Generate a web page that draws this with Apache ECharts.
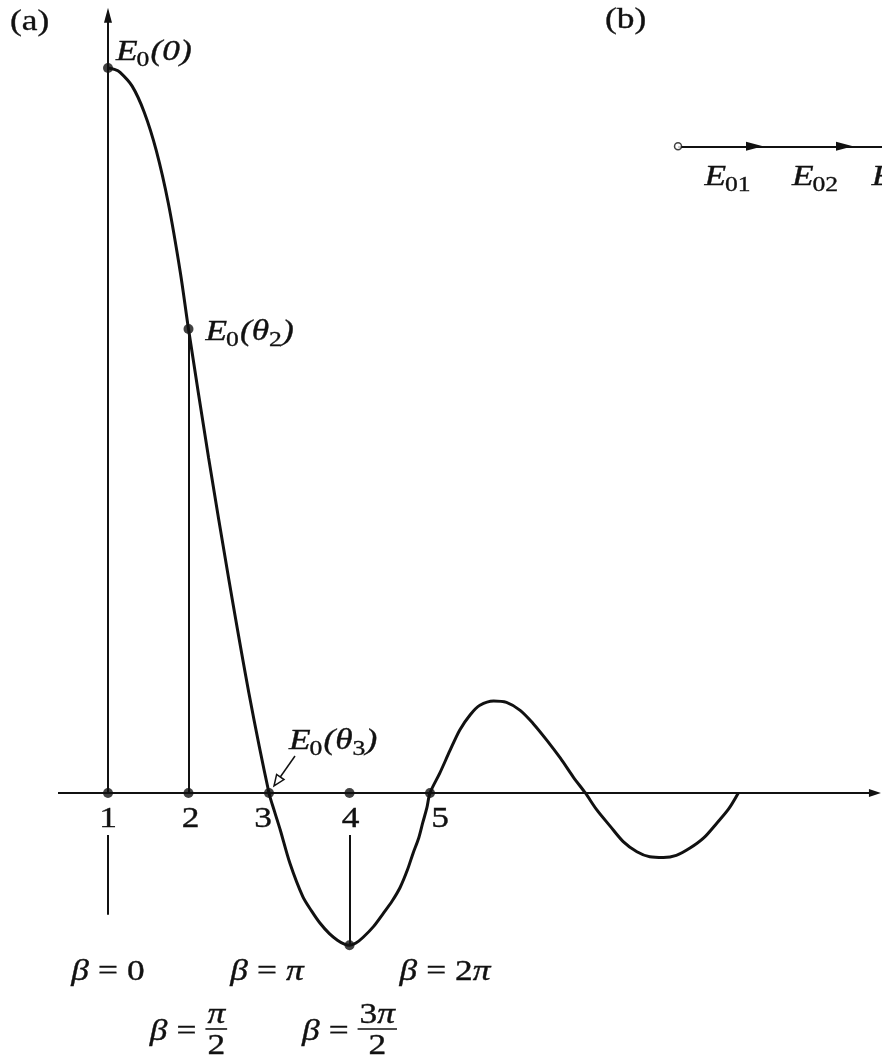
<!DOCTYPE html>
<html><head><meta charset="utf-8">
<script src="https://cdn.jsdelivr.net/npm/echarts@6/dist/echarts.min.js"></script>
<style>html,body{margin:0;padding:0;background:#fff}#c{width:882px;height:1060px}</style>
</head><body><div id="c"></div>
<script>
// ---------------- data ----------------
const curveX = [1.00, 1.08, 1.15, 1.30, 1.45, 1.60, 1.75, 1.90, 2.00, 2.25, 2.50, 2.75, 3.00,
                3.07, 3.14, 3.26, 3.42, 3.53, 3.63, 3.75, 3.85, 3.93, 4.00, 4.08, 4.17, 4.30, 4.42,
                4.53, 4.63, 4.72, 4.79, 4.86, 4.91, 4.96, 5.00,
                5.12, 5.25, 5.37, 5.50, 5.62, 5.79, 5.95, 6.12, 6.28, 6.45, 6.62, 6.78, 6.93,
                7.07, 7.24, 7.40, 7.57, 7.73, 7.90, 8.06, 8.23, 8.40, 8.56, 8.71, 8.83];
const curveY = [1.000, 0.998, 0.994, 0.975, 0.939, 0.886, 0.813, 0.717, 0.640, 0.462, 0.295, 0.138, 0.000,
                -0.026, -0.051, -0.097, -0.143, -0.163, -0.179, -0.194, -0.203, -0.208, -0.210, -0.207, -0.199, -0.184, -0.166,
                -0.149, -0.130, -0.106, -0.083, -0.062, -0.041, -0.021, 0.000,
                0.027, 0.059, 0.087, 0.108, 0.121, 0.127, 0.125, 0.114, 0.096, 0.073, 0.048, 0.022, 0.000,
                -0.023, -0.046, -0.067, -0.081, -0.088, -0.089, -0.086, -0.076, -0.062, -0.042, -0.022, 0.000];
const axisPointX = [1, 2, 3, 4, 5];
const tickLabels = ['1', '2', '3', '4', '5'];
const betaLabels = ['0', 'π/2', 'π', '3π/2', '2π'];
const fieldPointX = [1, 2, 4];
const fieldPointY = [1.0, 0.64, -0.21];
const fieldLabelX = [1, 2, 3];
const fieldLabelArg = ['0', 'θ2', 'θ3'];
const phasorX = [8.081, 9.137, 10.255, 11.12];
const phasorY = 0.892;
const phasorLabels = ['01', '02', '03'];

// ---------------- layout / style ----------------
const INK = '#111111';
const FONT = 'Liberation Serif';
const SX = 1.22;          // horizontal stretch of the lettering
const X_MIN = -0.3416, X_MAX = 10.6149, Y_MIN = -0.3683, Y_MAX = 1.0938;
const AXIS_X0 = 0.379, AXIS_XTIP = 10.602, AXIS_YTIP = 1.083;
const STUB = [-0.058, -0.168];

const chart = echarts.init(document.getElementById('c'), null, {renderer: 'canvas'});

const seg = (a, b, w) => ({coords: [a, b], lineStyle: {width: w}});
const segments = [
  seg([AXIS_X0, 0], [AXIS_XTIP - 0.08, 0], 2),
  seg([1, 0], [1, AXIS_YTIP - 0.012], 2),
  seg([1, STUB[0]], [1, STUB[1]], 2),
  seg([2, 0], [2, fieldPointY[1]], 2),
  seg([4, STUB[0]], [4, fieldPointY[2]], 2),
  seg([phasorX[0], phasorY], [phasorX[3], phasorY], 2)
];

chart.setOption({
  animation: false,
  backgroundColor: '#ffffff',
  grid: {left: 0, right: 0, top: 0, bottom: 0},
  xAxis: {type: 'value', min: X_MIN, max: X_MAX, show: false},
  yAxis: {type: 'value', min: Y_MIN, max: Y_MAX, show: false},
  series: [
    {type: 'lines', coordinateSystem: 'cartesian2d', polyline: false, silent: true,
     lineStyle: {color: INK, width: 2, opacity: 1, curveness: 0}, symbol: 'none', z: 2,
     data: segments},
    {type: 'line', data: curveX.map((x, i) => [x, curveY[i]]), smooth: 0.3,
     showSymbol: false, symbol: 'none', lineStyle: {color: INK, width: 3}, z: 3, silent: true},
    {type: 'scatter', symbol: 'circle', symbolSize: 10, itemStyle: {color: INK}, z: 4, silent: true,
     data: axisPointX.map(x => [x, 0]).concat(fieldPointX.map((x, i) => [x, fieldPointY[i]]))},
    {type: 'scatter', symbol: 'circle', symbolSize: 7, z: 4, silent: true,
     itemStyle: {color: '#fff', borderColor: INK, borderWidth: 1.5},
     data: [[phasorX[0], phasorY]]}
  ]
});

// ---------------- annotation helpers ----------------
const ctx = document.createElement('canvas').getContext('2d');
function tw(t, size, it) { ctx.font = (it ? 'italic ' : '') + size + 'px "' + FONT + '"'; return ctx.measureText(t).width * SX; }
// piece: [text, size, italic, dy, gapAfter]
function runsWidth(pieces) { return pieces.reduce((s, p) => s + tw(p[0], p[1], p[2]) + (p[4] || 0), 0); }
function runs(x, y, pieces, align) {
  let cx = align === 'center' ? x - runsWidth(pieces) / 2 : x;
  const out = [];
  for (const p of pieces) {
    out.push({type: 'text', x: cx, y: y + (p[3] || 0), scaleX: SX, silent: true, z: 10,
      style: {text: p[0], fontSize: p[1], fontStyle: p[2] ? 'italic' : 'normal', fontFamily: FONT,
              fill: INK, stroke: INK, lineWidth: 0.35, align: 'left', verticalAlign: 'middle'}});
    cx += tw(p[0], p[1], p[2]) + (p[4] || 0);
  }
  return out;
}
const P = (x, y) => chart.convertToPixel({gridIndex: 0}, [x, y]);
function head(tip, dx, dy, len, hw, hollow) {
  const bx = tip[0] - dx * len, by = tip[1] - dy * len;
  return {type: 'polygon', silent: true, z: 9,
    shape: {points: [tip, [bx - dy * hw, by + dx * hw], [bx + dy * hw, by - dx * hw]]},
    style: hollow ? {fill: '#fff', stroke: INK, lineWidth: 1.5} : {fill: INK}};
}
function fieldPieces(arg) {
  const pcs = [['E', 29, true, 0, -1], ['0', 21, false, 8, 1], ['(', 29, true]];
  if (arg.length === 2) pcs.push([arg[0], 29, true], [arg[1], 21, false, 8]);
  else pcs.push([arg, 29, true]);
  pcs.push([')', 29, true]);
  return pcs;
}
function beta(cx, cy, s) {
  const lead = [['β', 29, true, 0, 9], ['=', 29, false, 0, 9]];
  const out = [];
  if (s.indexOf('/') < 0) {
    const val = s.replace('π', '').length ? [[s.replace('π', ''), 29, false]] : [];
    if (s.indexOf('π') >= 0) val.push(['π', 29, true]);
    return runs(cx, cy, lead.concat(val), 'center');
  }
  const [num, den] = s.split('/');
  const numP = [];
  if (num.replace('π', '').length) numP.push([num.replace('π', ''), 29, false]);
  numP.push(['π', 29, true]);
  const fw = Math.max(runsWidth(numP), tw(den, 29, false)) + 4;
  const lw = runsWidth(lead);
  let x0 = cx - (lw + fw) / 2;
  out.push(...runs(x0, cy, lead, 'left'));
  const fc = x0 + lw + fw / 2;
  out.push(...runs(fc, cy - 17, numP, 'center'));
  out.push({type: 'line', silent: true, z: 9, shape: {x1: fc - fw / 2, y1: cy - 3, x2: fc + fw / 2, y2: cy - 3},
            style: {stroke: INK, lineWidth: 1.6}});
  out.push(...runs(fc, cy + 14, [[den, 29, false]], 'center'));
  return out;
}

// ---------------- annotations ----------------
const g = [];
g.push(...runs(10, 22, [['(a)', 29, false]], 'left'));
g.push(...runs(605, 20, [['(b)', 29, false]], 'left'));

const tickDx = [0, 2, -6, 1, 10];
axisPointX.forEach((x, i) => {
  const p = P(x, 0);
  g.push(...runs(p[0] + tickDx[i], p[1] + 26, [[tickLabels[i], 29, false]], 'center'));
});
const betaDx = [0, 0, -2, 0, 15];
axisPointX.forEach((x, i) => {
  const p = P(x, 0);
  const frac = betaLabels[i].indexOf('/') >= 0;
  g.push(...beta(p[0] + betaDx[i], p[1] + (frac ? 239 : 179), betaLabels[i]));
});

const fieldOff = [[8, -16], [17, 3], [20, -52]];
fieldLabelX.forEach((x, i) => {
  const y = x === 3 ? 0 : fieldPointY[fieldPointX.indexOf(x)];
  const p = P(x, y);
  g.push(...runs(p[0] + fieldOff[i][0], p[1] + fieldOff[i][1], fieldPieces(fieldLabelArg[i]), 'left'));
});
// pointer arrow to E0(theta3)
{
  const p = P(3, 0);
  const tip = [p[0] + 5, p[1] - 7], tail = [p[0] + 26, p[1] - 37];
  const L = Math.hypot(tip[0] - tail[0], tip[1] - tail[1]);
  const dx = (tip[0] - tail[0]) / L, dy = (tip[1] - tail[1]) / L;
  g.push({type: 'line', silent: true, z: 9, shape: {x1: tail[0], y1: tail[1], x2: tip[0] - dx * 10, y2: tip[1] - dy * 10},
          style: {stroke: INK, lineWidth: 1.5}});
  g.push(head(tip, dx, dy, 11, 4.5, true));
}
// axis arrowheads
g.push(head(P(AXIS_XTIP, 0), 1, 0, 12, 4));
g.push(head(P(1, AXIS_YTIP), 0, -1, 15, 4));
// phasor arrowheads and labels
for (let i = 0; i < 3; i++) {
  g.push(head(P(phasorX[i + 1], phasorY), 1, 0, 17, 4.5));
  const a = P(phasorX[i], phasorY), b = P(phasorX[i + 1], phasorY);
  g.push(...runs((a[0] + b[0]) / 2 + 7, a[1] + 31, [['E', 29, true, 0, -1], [phasorLabels[i], 21, false, 8]], 'center'));
}

chart.setOption({graphic: g});
</script>
</body></html>
